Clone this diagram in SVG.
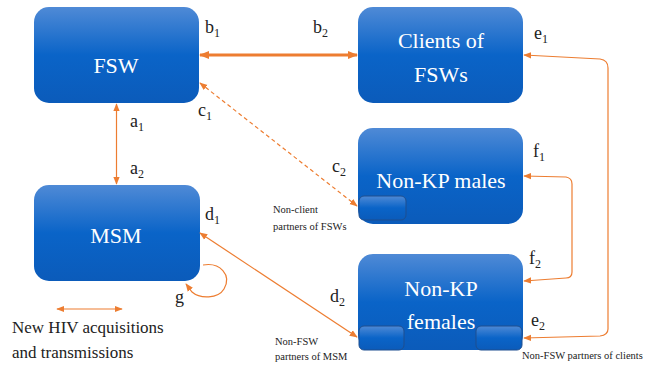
<svg xmlns="http://www.w3.org/2000/svg" width="660" height="366" viewBox="0 0 660 366">
<defs>
<linearGradient id="bg" x1="0" y1="0" x2="0" y2="1">
<stop offset="0" stop-color="#4F8AD6"/>
<stop offset="0.5" stop-color="#0A64C8"/>
<stop offset="1" stop-color="#0B5BBA"/>
</linearGradient>
<marker id="ah" viewBox="0 0 10 10" refX="9" refY="5" markerWidth="8" markerHeight="8" markerUnits="userSpaceOnUse" orient="auto-start-reverse">
<path d="M0,1 L10,5 L0,9 z" fill="#ED7D31"/>
</marker>
<marker id="ahb" viewBox="0 0 10 10" refX="9" refY="5" markerWidth="10" markerHeight="10" markerUnits="userSpaceOnUse" orient="auto-start-reverse">
<path d="M0,1 L10,5 L0,9 z" fill="#ED7D31"/>
</marker>
</defs>
<style>
.box{fill:url(#bg);}
.sub{fill:url(#bg);stroke:#1E4F8F;stroke-width:1;}
.nt{font-size:22px;fill:#fff;text-anchor:middle;}
.lb{font-size:18px;fill:#222;}
.sm{font-size:10.5px;fill:#222;}
.lg{font-size:17px;fill:#222;}
.c{fill:none;stroke:#ED7D31;stroke-width:1.2;}
</style>
<g font-family="Liberation Serif, Times New Roman, serif">
<g id="FSW"><rect class="box" x="34" y="7" width="165" height="96" rx="15"/><text class="nt" x="116" y="73">FSW</text></g>
<g id="Clients"><rect class="box" x="358" y="7" width="165" height="96" rx="15"/><text class="nt" x="441" y="48">Clients of</text><text class="nt" x="441" y="82">FSWs</text></g>
<g id="NonKPmales"><rect class="box" x="358" y="128" width="165" height="96" rx="15"/><text class="nt" x="441" y="188">Non-KP males</text><rect class="sub" x="359" y="196" width="47" height="24" rx="5"/></g>
<g id="MSM"><rect class="box" x="34" y="185" width="166" height="96" rx="15"/><text class="nt" x="116" y="243">MSM</text></g>
<g id="NonKPfemales"><rect class="box" x="358" y="254" width="165" height="96" rx="15"/><text class="nt" x="441" y="296">Non-KP</text><text class="nt" x="441" y="329">females</text><rect class="sub" x="359" y="326" width="45" height="24" rx="5"/><rect class="sub" x="476" y="326" width="46" height="24" rx="5"/></g>
<g id="connectors">
<line x1="200" y1="55" x2="357" y2="55" stroke="#ED7D31" stroke-width="3" marker-start="url(#ahb)" marker-end="url(#ahb)"/>
<line class="c" x1="116.5" y1="104" x2="116.5" y2="184" marker-start="url(#ah)" marker-end="url(#ah)"/>
<line class="c" x1="200" y1="83" x2="357" y2="206" stroke-dasharray="4,3" marker-start="url(#ah)" marker-end="url(#ah)"/>
<line class="c" x1="200" y1="233" x2="357" y2="337" marker-start="url(#ah)" marker-end="url(#ah)"/>
<path class="c" d="M524,55 L600,59 Q608,60 608,68 L608,329 Q608,335 600,336 L524,338" marker-start="url(#ah)" marker-end="url(#ah)"/>
<path class="c" d="M524,176 L566,177 Q572,178 572,184 L572,272 Q572,278 566,278 L524,281" marker-start="url(#ah)" marker-end="url(#ah)"/>
<path class="c" d="M203,265 C220,262 232,275 224,289 C218,299 200,299 192,292 L186,284" stroke-width="1.6" marker-end="url(#ah)"/>
<line class="c" x1="57" y1="309" x2="122" y2="309" marker-start="url(#ah)" marker-end="url(#ah)"/>
</g>
<g id="labels">
<text class="lb" x="205" y="33">b<tspan font-size="12" dy="4">1</tspan></text>
<text class="lb" x="313" y="33">b<tspan font-size="12" dy="4">2</tspan></text>
<text class="lb" x="198" y="116">c<tspan font-size="12" dy="4">1</tspan></text>
<text class="lb" x="130" y="127">a<tspan font-size="12" dy="4">1</tspan></text>
<text class="lb" x="130" y="174">a<tspan font-size="12" dy="4">2</tspan></text>
<text class="lb" x="534" y="39">e<tspan font-size="12" dy="4">1</tspan></text>
<text class="lb" x="533" y="157">f<tspan font-size="12" dy="4">1</tspan></text>
<text class="lb" x="332" y="172">c<tspan font-size="12" dy="4">2</tspan></text>
<text class="lb" x="205" y="220">d<tspan font-size="12" dy="4">1</tspan></text>
<text class="lb" x="175" y="303">g</text>
<text class="lb" x="330" y="302">d<tspan font-size="12" dy="4">2</tspan></text>
<text class="lb" x="529" y="264">f<tspan font-size="12" dy="4">2</tspan></text>
<text class="lb" x="531" y="326">e<tspan font-size="12" dy="4">2</tspan></text>
<text class="sm" x="273" y="213">Non-client</text>
<text class="sm" x="273" y="230">partners of FSWs</text>
<text class="sm" x="275" y="345">Non-FSW</text>
<text class="sm" x="275" y="360">partners of MSM</text>
<text class="sm" x="522" y="359">Non-FSW partners of clients</text>
<text class="lg" x="12" y="333">New HIV acquisitions</text>
<text class="lg" x="12" y="358">and transmissions</text>
</g>
</g>
</svg>
